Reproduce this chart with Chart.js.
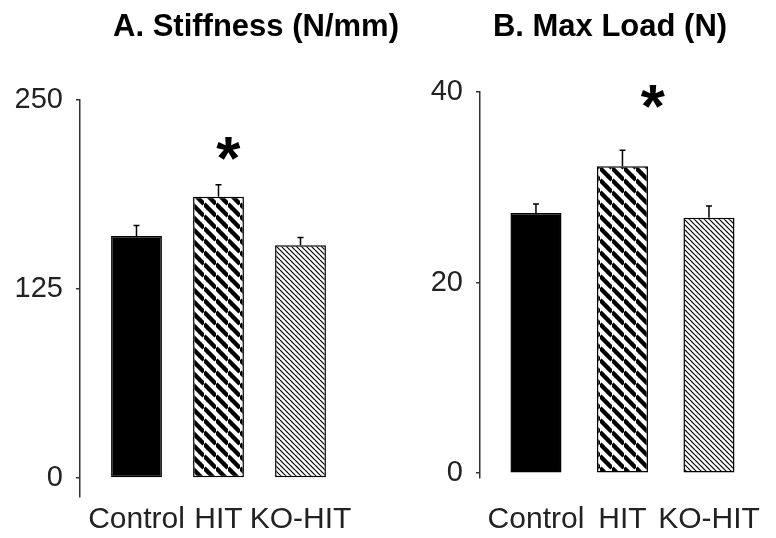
<!DOCTYPE html>
<html>
<head>
<meta charset="utf-8">
<script src="https://cdn.jsdelivr.net/npm/chart.js@4.4.1/dist/chart.umd.min.js"></script>
<style>
  body { margin: 0; background: #fff; overflow: hidden; }
  #wrap { position: relative; width: 776px; height: 538px; overflow: hidden; }
  #wrap canvas { position: absolute; left: 0; top: 0; }
</style>
</head>
<body>
<div id="wrap">
  <canvas id="stiffness" width="776" height="543"></canvas>
  <canvas id="maxload" width="820" height="562"></canvas>
</div>
<script>

const groups = ['Control', 'HIT', 'KO-HIT'];

// A. stiffness (N/mm), mean and upper error
const stiffness = [160, 186, 154];
const stiffnessErr = [7, 8, 5];
const stiffnessTicks = [0, 125, 250];

// B. max load (N)
const maxLoad = [27.3, 32.2, 26.8];
const maxLoadErr = [0.95, 1.7, 1.25];
const maxLoadTicks = [0, 20, 40];

const family = '"Liberation Sans", Arial, Helvetica, sans-serif';

// diagonal "\" hatching, period in px
const hatch = function makeHatch(ctx, period, width) {
  const tile = document.createElement('canvas');
  tile.width = period;
  tile.height = period;
  const t = tile.getContext('2d');
  t.fillStyle = '#fff';
  t.fillRect(0, 0, period, period);
  t.strokeStyle = '#000';
  t.lineWidth = width;
  [-period, 0, period].forEach(off => {
    t.beginPath();
    t.moveTo(0, off);
    t.lineTo(period, off + period);
    t.stroke();
  });
  return ctx.createPattern(tile, 'repeat');
};

// error whiskers (upper only) and the significance star
const extras = {
  id: 'extras',
  afterDatasetsDraw(chart, args, opts) {
    const ctx = chart.ctx;
    const x = chart.scales.x;
    const y = chart.scales.y;
    const meta = chart.getDatasetMeta(0);
    ctx.save();
    ctx.strokeStyle = '#000';
    ctx.lineWidth = 1.5;
    meta.data.forEach((bar, i) => {
      const top = y.getPixelForValue(opts.values[i] + opts.errors[i]);
      ctx.beginPath();
      ctx.moveTo(bar.x, bar.y);
      ctx.lineTo(bar.x, top);
      ctx.moveTo(bar.x - 3, top);
      ctx.lineTo(bar.x + 3, top);
      ctx.stroke();
    });
    // the asterisk glyph sits high in its em box, so nudge it down
    ctx.font = 'bold 62px ' + family;
    ctx.fillStyle = '#000';
    ctx.textAlign = 'center';
    ctx.textBaseline = 'middle';
    ctx.fillText('*', x.getPixelForValue(opts.star[0]), y.getPixelForValue(opts.star[1]) + 12);
    ctx.restore();
  }
};

const buildChart = function buildPanel(id, cfg) {
  const canvas = document.getElementById(id);
  const ctx = canvas.getContext('2d');
  const fills = ['#000', hatch(ctx, 12, 4.4), hatch(ctx, 5, 1.2)];

  return new Chart(canvas, {
    type: 'bar',
    data: {
      datasets: [{
        data: cfg.values.map((v, i) => ({ x: i, y: v })),
        backgroundColor: fills,
        borderColor: '#000',
        borderWidth: 1.5,
        borderSkipped: false,
        barPercentage: cfg.barPct,
        categoryPercentage: 1,
      }],
    },
    options: {
      responsive: false,
      animation: false,
      layout: { padding: cfg.padding },
      plugins: {
        legend: { display: false },
        tooltip: { enabled: false },
        title: {
          display: true,
          text: cfg.title,
          color: '#000',
          font: { size: 31, weight: 'bold', family: family },
          padding: { top: 9, bottom: cfg.titleGap },
        },
        extras: { values: cfg.values, errors: cfg.errors, star: cfg.star },
      },
      scales: {
        x: {
          type: 'linear',
          offset: false,
          min: cfg.xMin,
          max: cfg.xMax,
          grid: { display: false, drawTicks: false },
          border: { display: false },
          afterBuildTicks: s => { s.ticks = groups.map((g, i) => ({ value: i })); },
          ticks: {
            autoSkip: false,
            maxRotation: 0,
            minRotation: 0,
            padding: cfg.labelGap,
            color: '#222',
            font: { size: 30, family: family },
            callback: v => groups[v],
          },
        },
        y: {
          min: cfg.yMin,
          max: cfg.ticks[cfg.ticks.length - 1],
          afterBuildTicks: s => { s.ticks = cfg.ticks.map(v => ({ value: v })); },
          afterFit: s => { s.width = cfg.axisWidth; },
          grid: { drawOnChartArea: false, drawTicks: true, tickLength: 4, color: '#333', lineWidth: 1.5 },
          border: { display: true, color: '#333', width: 1.5 },
          ticks: { padding: 13, color: '#222', font: { size: 29, family: family } },
        },
      },
    },
    plugins: [extras],
  });
};

buildChart('stiffness', {
  title: 'A. Stiffness (N/mm)',
  values: stiffness,
  errors: stiffnessErr,
  ticks: stiffnessTicks,
  yMin: -12.6,
  xMin: -0.689,
  xMax: -0.689 + 432 / 82,
  barPct: 0.62,
  padding: { left: 0, right: 264, top: 0, bottom: 0 },
  axisWidth: 80,
  titleGap: 53.8,
  labelGap: 5,
  star: [1.12, 217],
});

buildChart('maxload', {
  title: 'B. Max Load (N)',
  values: maxLoad,
  errors: maxLoadErr,
  ticks: maxLoadTicks,
  yMin: -0.5,
  xMin: -0.647,
  xMax: -0.647 + 340 / 86.5,
  barPct: 0.59,
  padding: { left: 400, right: 0, top: 0, bottom: 0 },
  axisWidth: 80,
  titleGap: 45.8,
  labelGap: 24,
  star: [1.35, 39.4],
});

</script>
</body>
</html>
